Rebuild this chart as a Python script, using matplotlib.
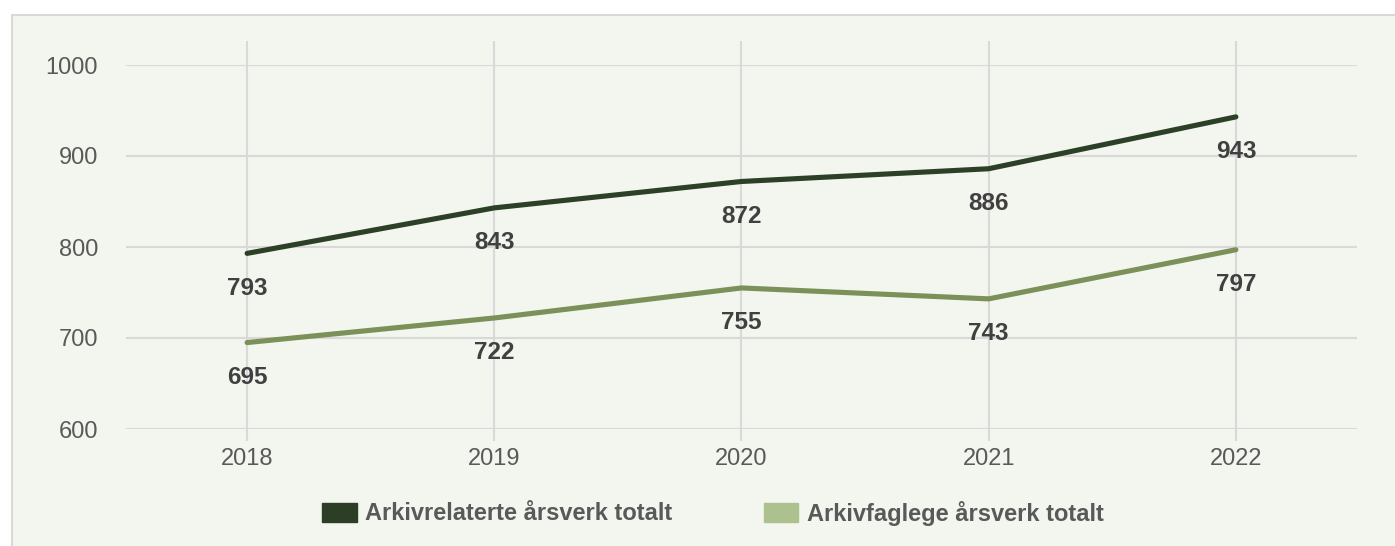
import matplotlib.pyplot as plt
from matplotlib.patches import Rectangle, Patch

years = ["2018", "2019", "2020", "2021", "2022"]
relaterte = [793, 843, 872, 886, 943]
faglege = [695, 722, 755, 743, 797]
series_names = ["Arkivrelaterte årsverk totalt", "Arkivfaglege årsverk totalt"]
yticks = [600, 700, 800, 900, 1000]

plt.rcParams['font.family'] = ['Liberation Sans', 'DejaVu Sans']

W, H = 1395, 546
fig = plt.figure(figsize=(W / 100, H / 100), dpi=100)
fig.patch.set_facecolor("white")

# light panel with grey border on top/left
fig.add_artist(Rectangle((12 / W, -0.02), 1.0, (H - 15) / H + 0.02,
                         transform=fig.transFigure, facecolor="#f3f6ee",
                         edgecolor="#d9d9d9", linewidth=1.5, zorder=0))

ax = fig.add_axes([126 / W, 1 - 429 / H, (1357 - 126) / W, (429 - 65) / H])
ax.set_facecolor("none")
x = list(range(len(years)))

ax.set_xlim(-0.49, 4.49)
ax.set_ylim(600, 1000)
ax.set_yticks(yticks)
ax.set_xticks(x)
ax.set_xticklabels(years)
for s in ax.spines.values():
    s.set_visible(False)
ax.tick_params(axis="both", length=0, labelsize=17, labelcolor="#595959")
ax.tick_params(axis="y", pad=20)
ax.tick_params(axis="x", pad=14)
ax.yaxis.grid(True, color="#d9d9d9", linewidth=1.5)
ax.set_axisbelow(True)
ax.vlines(x, 587, 1026, color="#d9d9d9", linewidth=1.5, clip_on=False, zorder=0)

dark = "#2b4026"
light = "#7c905a"
ax.plot(x, relaterte, color=dark, linewidth=3.7, solid_capstyle="round", zorder=3)
ax.plot(x, faglege, color=light, linewidth=3.7, solid_capstyle="round", zorder=3)

for xs, ys in [(x, relaterte), (x, faglege)]:
    for xi, yi in zip(xs, ys):
        ax.annotate(str(yi), (xi, yi), xytext=(0, -35), textcoords="offset pixels",
                    ha="center", va="center", fontsize=17.5, fontweight="bold",
                    color="#404040", zorder=4)

handles = [Patch(facecolor="#2c3f26", edgecolor="#2c3f26"),
           Patch(facecolor="#adc18f", edgecolor="#adc18f")]
leg = fig.legend(handles, series_names, loc="center", bbox_to_anchor=(713 / W, 1 - 513 / H),
                 ncol=2, frameon=False, handlelength=1.45, handleheight=0.9,
                 handletextpad=0.35, columnspacing=3.9,
                 prop={"size": 17, "weight": "bold"})
for t in leg.get_texts():
    t.set_color("#595959")

fig.savefig("out.png", dpi=100, facecolor="white")
